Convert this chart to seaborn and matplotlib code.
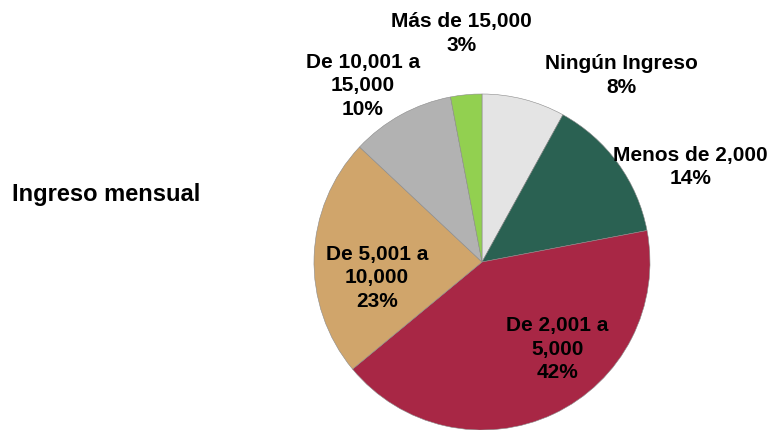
import matplotlib
matplotlib.use('Agg')
import matplotlib.pyplot as plt
import seaborn as sns

# ── Data ──────────────────────────────────────────────────────────────────────
categorias = ['Ningún Ingreso', 'Menos de 2,000', 'De 2,001 a\n5,000',
              'De 5,001 a\n10,000', 'De 10,001 a\n15,000', 'Más de 15,000']
porcentajes = [8, 14, 42, 23, 10, 3]

# ── Styling ───────────────────────────────────────────────────────────────────
COLORES = ['#E4E4E4', '#2A6152', '#A82745', '#D0A56B', '#B2B2B2', '#92D050']
# label centres in pie-radius units (x, y)
POS_ETIQUETAS = [(0.83, 1.11), (1.24, 0.565), (0.45, -0.52),
                 (-0.625, -0.095), (-0.71, 1.05), (-0.12, 1.36)]

sns.set_theme(style='white')
plt.rcParams['font.family'] = ['Liberation Sans', 'DejaVu Sans']

fig = plt.figure(figsize=(7.72, 4.30), dpi=100)
fig.patch.set_facecolor('white')

R = 168
cx, cy = 482, 430 - 262
ax = fig.add_axes([(cx - R) / 772, (cy - R) / 430, 2 * R / 772, 2 * R / 430])

wedges, _ = ax.pie(porcentajes, colors=COLORES, startangle=90, counterclock=False,
                   radius=1, wedgeprops={'edgecolor': '#8a8a8a', 'linewidth': 0.4})
for w in wedges:
    w.set_clip_on(False)
ax.set_xlim(-1, 1)
ax.set_ylim(-1, 1)
ax.set_aspect('equal')
ax.axis('off')

for cat, pct, (x, y) in zip(categorias, porcentajes, POS_ETIQUETAS):
    ax.text(x, y, f'{cat}\n{pct}%', ha='center', va='center',
            fontsize=15, fontweight='bold', color='black', linespacing=1.3,
            clip_on=False)

fig.text(12 / 772, 1 - 194 / 430, 'Ingreso mensual', ha='left', va='center',
         fontsize=17, fontweight='bold', color='black')

fig.savefig('out.png', dpi=100, facecolor='white')
